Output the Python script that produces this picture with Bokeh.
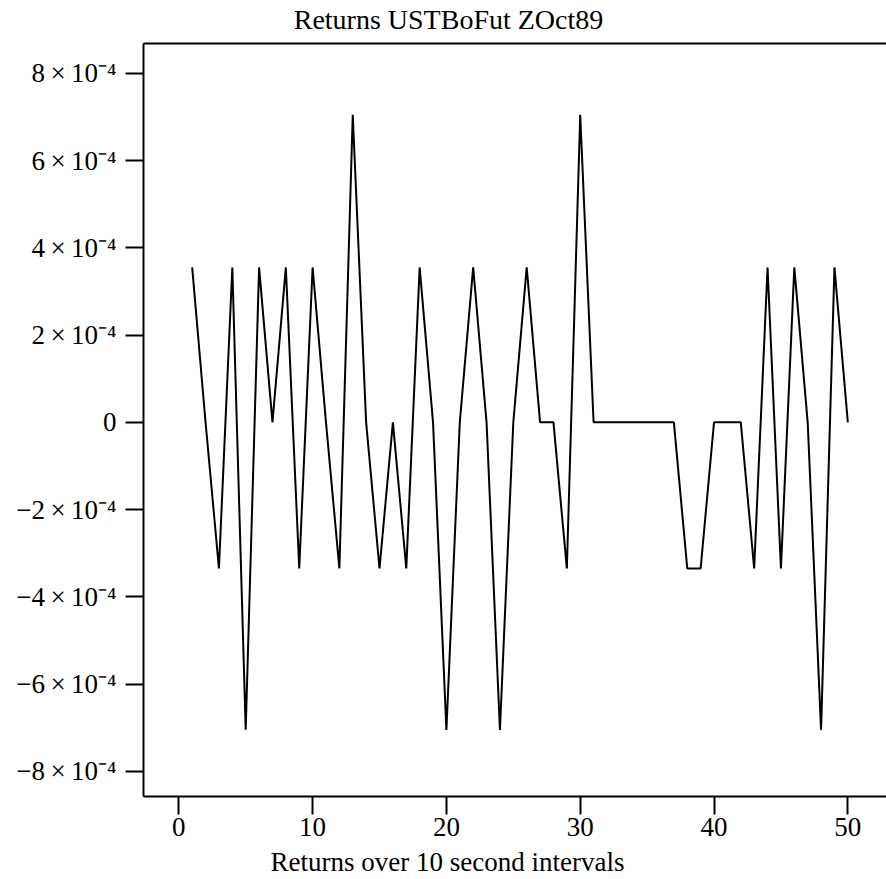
from bokeh.plotting import figure
from bokeh.models import Range1d, FixedTicker, LinearAxis
from bokeh.embed import file_html
from bokeh.resources import INLINE

# ---- data ----
interval = list(range(1, 51))
returns = [
    3.55e-4, 0.0, -3.35e-4, 3.55e-4, -7.05e-4, 3.55e-4, 0.0, 3.55e-4, -3.35e-4, 3.55e-4,
    0.0, -3.35e-4, 7.05e-4, 0.0, -3.35e-4, 0.0, -3.35e-4, 3.55e-4, 0.0, -7.05e-4,
    0.0, 3.55e-4, 0.0, -7.05e-4, 0.0, 3.55e-4, 0.0, 0.0, -3.35e-4, 7.05e-4,
    0.0, 0.0, 0.0, 0.0, 0.0, 0.0, 0.0, -3.35e-4, -3.35e-4, 0.0,
    0.0, 0.0, -3.35e-4, 3.55e-4, -3.35e-4, 3.55e-4, 0.0, -7.05e-4, 3.55e-4, 0.0,
]

x_ticks = [0, 10, 20, 30, 40, 50]
y_ticks = [-8e-4, -6e-4, -4e-4, -2e-4, 0.0, 2e-4, 4e-4, 6e-4, 8e-4]
TS = "\u2009"
y_tick_labels = [f"\u2212{d}{TS}\u00d7{TS}10\u207b\u2074" for d in (8, 6, 4, 2)] + ["0"] + \
                [f"{d}{TS}\u00d7{TS}10\u207b\u2074" for d in (2, 4, 6, 8)]

title_text = "Returns USTBoFut ZOct89"
xlabel_text = "Returns over 10 second intervals"

FONT = "Liberation Serif"
W, H = 886, 879
NBSP = "\u00a0"

p = figure(width=W, height=H, output_backend="svg", toolbar_location=None,
           x_range=Range1d(-2.638, 52.89), y_range=Range1d(-8.578e-4, 8.683e-4),
           min_border_left=143, min_border_right=0, min_border_top=42, min_border_bottom=81)
p.outline_line_color = None
p.xgrid.visible = False
p.ygrid.visible = False
p.background_fill_color = "white"
p.border_fill_color = "white"

p.line(interval, returns, line_color="black", line_width=2)

for ax in (p.xaxis[0], p.yaxis[0]):
    ax.axis_line_width = 2
    ax.axis_line_color = "black"
    ax.major_tick_line_width = 2
    ax.major_tick_line_color = "black"
    ax.major_tick_out = 18
    ax.major_tick_in = 0
    ax.minor_tick_line_color = None
    ax.minor_tick_out = 0
    ax.major_label_text_font = FONT
    ax.major_label_text_font_size = "27px"
    ax.major_label_text_color = "black"

p.xaxis[0].ticker = FixedTicker(ticks=x_ticks)
p.xaxis[0].major_label_standoff = 3
p.yaxis[0].ticker = FixedTicker(ticks=y_ticks)
p.yaxis[0].major_label_overrides = {t: s for t, s in zip(y_ticks, y_tick_labels)}
p.yaxis[0].major_label_standoff = 9

# top border of the frame
top = LinearAxis(ticker=FixedTicker(ticks=[]), axis_line_width=2, axis_line_color="black",
                 major_tick_line_color=None, minor_tick_line_color=None,
                 major_tick_out=0, minor_tick_out=0, major_label_standoff=0,
                 major_label_text_font_size="0px")
p.add_layout(top, "above")

# label-only axes; trailing no-break spaces move the visible text left of the frame centre
label_axis_kw = dict(ticker=FixedTicker(ticks=[]),
                     axis_line_color=None, major_tick_line_color=None,
                     minor_tick_line_color=None, major_tick_out=0, minor_tick_out=0,
                     major_label_standoff=0, major_label_text_font_size="0px",
                     axis_label_text_font=FONT, axis_label_text_font_style="normal",
                     axis_label_text_color="black")
title_axis = LinearAxis(axis_label=title_text + NBSP * 19, axis_label_standoff=9,
                        axis_label_text_font_size="28px", **label_axis_kw)
p.add_layout(title_axis, "above")
xlabel_axis = LinearAxis(axis_label=xlabel_text + NBSP * 20, axis_label_standoff=8,
                         axis_label_text_line_height=0.8,
                         axis_label_text_font_size="27px", **label_axis_kw)
p.add_layout(xlabel_axis, "below")

open("out.html", "w").write(file_html(p, INLINE))
